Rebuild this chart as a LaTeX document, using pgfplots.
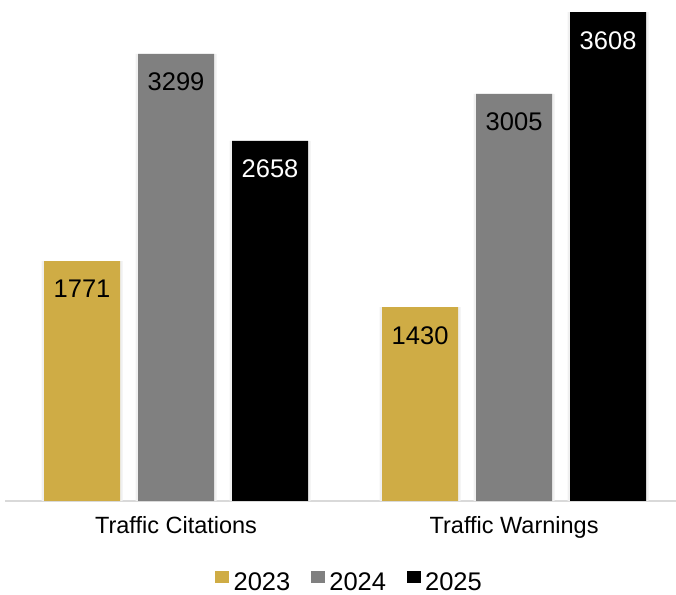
\documentclass[border=0pt]{standalone}
\usepackage{pgfplots}
\pgfplotsset{compat=1.18}
\usepackage{fontspec}
\setmainfont{Liberation Sans}
\definecolor{gold}{HTML}{CFAC45}
\definecolor{midgray}{HTML}{808080}
\definecolor{axisgray}{HTML}{D9D9D9}
\pgfplotsset{
  sq legend/.style={legend image code/.code={\fill[##1,draw=none] (0pt,-0.5pt) rectangle (14pt,11.5pt);}},
  shadow/.style={forget plot, fill=black!6, draw=none, bar width=81pt},
  lbl/.style={nodes near coords, every node near coord/.append style={anchor=north, inner sep=0pt, yshift=-19pt, font=\fontsize{25.5}{25.5}\selectfont, text=#1}},
}
\begin{document}
\begin{tikzpicture}
\begin{axis}[name=ax,
  scale only axis, width=671pt, height=501pt,
  xmin=-0.506, xmax=1.479, ymin=0, ymax=3697,
  ybar, bar width=76pt,
  axis x line*=bottom, axis y line=none,
  x axis line style={draw=axisgray, line width=2pt, -},
  xtick={0,1}, xticklabels={Traffic Citations, Traffic Warnings},
  major tick length=0pt,
  xticklabel style={font=\fontsize{23.5}{23.5}\selectfont, yshift=-12pt},
  ytick=\empty,
  clip=false,
  /pgf/number format/.cd, 1000 sep={}, assume math mode=true, /pgfplots/.cd,
  legend style={at={(0.513,-0.162)}, anchor=center, draw=none, fill=none,
    legend columns=3, font=\fontsize{25.5}{25.5}\selectfont,
    nodes={inner sep=1.5pt},
    /tikz/every odd column/.append style={column sep=3pt},
    /tikz/every even column/.append style={column sep=19pt}},
]
\addplot[shadow, bar shift=-94pt] coordinates {(0,1771) (1,1430)};
\addplot[shadow, bar shift=0pt] coordinates {(0,3299) (1,3005)};
\addplot[shadow, bar shift=94pt] coordinates {(0,2658) (1,3608)};
\addplot[fill=gold, draw=none, bar shift=-94pt, sq legend, lbl=black] coordinates {(0,1771) (1,1430)};
\addplot[fill=midgray, draw=none, bar shift=0pt, sq legend, lbl=black] coordinates {(0,3299) (1,3005)};
\addplot[fill=black, draw=none, bar shift=94pt, sq legend, lbl=white] coordinates {(0,2658) (1,3608)};
\legend{2023, 2024, 2025}
\end{axis}
\pgfresetboundingbox
\path[use as bounding box] ([xshift=-5pt,yshift=-94pt]ax.south west) rectangle (ax.north east);
\end{tikzpicture}
\end{document}
